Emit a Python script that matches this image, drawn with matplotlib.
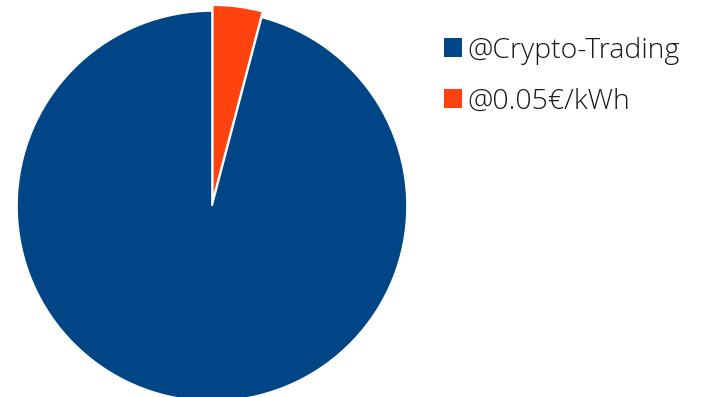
import matplotlib.pyplot as plt
from matplotlib.patches import Patch

labels = ['@Crypto-Trading', '@0.05€/kWh']
values = [95.9, 4.1]
colors = ['#004586', '#ff420e']
explode = [0, 0.03]

fig = plt.figure(figsize=(7.06, 3.97), dpi=100)
ax = fig.add_axes([17 / 706, -4 / 397, 390 / 706, 390 / 397])
ax.pie(values, colors=colors, explode=explode, startangle=90, counterclock=True,
       wedgeprops=dict(edgecolor='white', linewidth=1.2))
ax.set_xlim(-1, 1)
ax.set_ylim(-1, 1)
ax.set_aspect('equal')

handles = [Patch(facecolor=c, edgecolor='none') for c in colors]
fig.legend(handles, labels, loc='upper left', bbox_to_anchor=(418 / 706, 1 - 11 / 397),
           frameon=False, prop=dict(family='Open Sans', size=20.5, weight='light'),
           labelcolor='#1a1a1a',
           handlelength=0.65, handleheight=0.65, handletextpad=0.2, labelspacing=0.8)

fig.savefig('out.png', dpi=100)
